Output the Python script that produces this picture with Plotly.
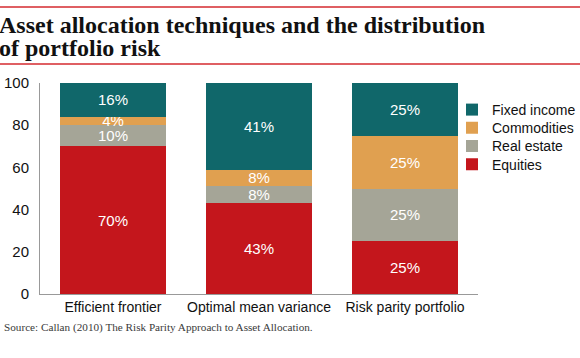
import plotly.graph_objects as go

categories = ["Efficient frontier", "Optimal mean variance", "Risk parity portfolio"]
series_names = ["Equities", "Real estate", "Commodities", "Fixed income"]
equities = [70, 43, 25]
real_estate = [10, 8, 25]
commodities = [4, 8, 25]
fixed_income = [16, 41, 25]
y_ticks = [0, 20, 40, 60, 80, 100]

colors = {"Equities": "#C4161C", "Real estate": "#A5A597",
          "Commodities": "#E0A050", "Fixed income": "#10676A"}
values = {"Equities": equities, "Real estate": real_estate,
          "Commodities": commodities, "Fixed income": fixed_income}

SANS = "Liberation Sans, Arial, sans-serif"
SERIF = "Liberation Serif, DejaVu Serif, serif"

W, H = 580, 358
L, R, T, B = 40, 102, 83, 64
pw, ph = W - L - R, H - T - B

def py(y):
    return (H - B - y) / ph

def px(x):
    return (x - L) / pw

# legend order top to bottom
legend_order = ["Fixed income", "Commodities", "Real estate", "Equities"]
legend_ids = {name: ("legend" if i == 0 else f"legend{i+1}") for i, name in enumerate(legend_order)}

fig = go.Figure()
for name in series_names:
    vals = values[name]
    fig.add_trace(go.Bar(
        x=categories, y=vals, name=name,
        marker=dict(color=colors[name], line=dict(width=0)),
        text=[f"{v}%" for v in vals], textposition="inside",
        insidetextanchor="middle", constraintext="none",
        textfont=dict(color="white", size=15, family=SANS),
        width=0.72, legend=legend_ids[name],
    ))

legend_layouts = {}
for i, name in enumerate(legend_order):
    lid = legend_ids[name]
    legend_layouts[lid] = dict(
        xref="container", yref="container",
        x=452 / W, y=1 - (94 + 18.2 * i) / H, xanchor="left", yanchor="top",
        font=dict(family=SANS, size=14, color="#111"),
        bgcolor="rgba(0,0,0,0)", itemwidth=30,
    )

fig.update_layout(
    width=W, height=H,
    margin=dict(l=L, r=R, t=T, b=B, pad=0, autoexpand=False),
    barmode="stack",
    paper_bgcolor="white", plot_bgcolor="white",
    showlegend=True,
    uniformtext=dict(mode=False),
    xaxis=dict(range=[-0.5, 2.5], showline=True, linecolor="#999", linewidth=1,
               ticks="", tickangle=0, automargin=False,
               tickfont=dict(family=SANS, size=14, color="#111"),
               showgrid=False, zeroline=False, fixedrange=True),
    yaxis=dict(range=[0, 100], tickvals=y_ticks, showline=True, linecolor="#999",
               linewidth=1, ticks="", ticklabelstandoff=7, automargin=False,
               tickfont=dict(family=SANS, size=15, color="#111"),
               showgrid=False, zeroline=False, fixedrange=True),
    shapes=[
        dict(type="line", xref="paper", yref="paper", x0=px(0), x1=px(580),
             y0=py(7), y1=py(7), line=dict(color="#D42A2F", width=1.5)),
        dict(type="line", xref="paper", yref="paper", x0=px(0), x1=px(580),
             y0=py(64), y1=py(64), line=dict(color="#D42A2F", width=1.5)),
    ],
    annotations=[
        dict(text="<b>Asset allocation techniques and the distribution</b>",
             xref="paper", yref="paper", x=px(-3), y=py(25), xanchor="left", yanchor="middle",
             align="left", showarrow=False,
             font=dict(family=SERIF, size=24, color="#111")),
        dict(text="<b>of portfolio risk</b>",
             xref="paper", yref="paper", x=px(-3), y=py(48), xanchor="left", yanchor="middle",
             align="left", showarrow=False,
             font=dict(family=SERIF, size=24, color="#111")),
        dict(text="Source: Callan (2010) The Risk Parity Approach to Asset Allocation.",
             xref="paper", yref="paper", x=px(2), y=py(327), xanchor="left", yanchor="middle",
             align="left", showarrow=False,
             font=dict(family=SERIF, size=11.2, color="#3a3a3a")),
    ],
)
fig.update_layout(**legend_layouts)

fig.write_html("out.html", config={"displayModeBar": False},
               post_script="document.body.style.margin='0';")
